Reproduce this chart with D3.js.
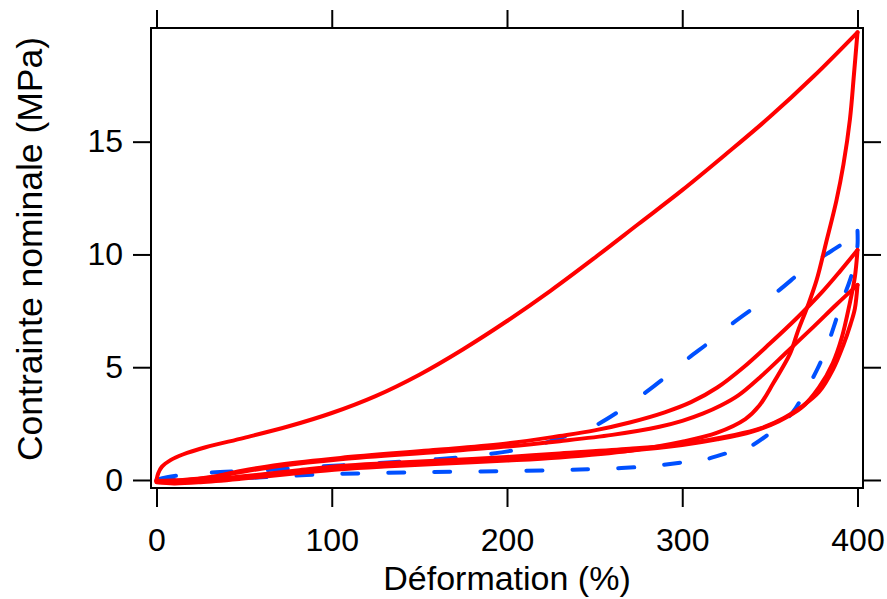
<!DOCTYPE html>
<html><head><meta charset="utf-8">
<script src="https://cdn.jsdelivr.net/npm/d3@7"></script>
<style>
html,body{margin:0;padding:0;background:#fff;}
svg text{font-family:"Liberation Sans",Arial,Helvetica,sans-serif;fill:#000;}
</style></head>
<body><svg id="chart" width="887" height="599"></svg>
<script>
// ---- data (Déformation %, Contrainte nominale MPa) ----
const xTicks = [0, 100, 200, 300, 400];
const yTicks = [0, 5, 10, 15];
const xLabel = "Déformation (%)";
const yLabel = "Contrainte nominale (MPa)";

const redLoad1 = [[0,0],[1,0.3],[3,0.58],[8,0.88],[15,1.13],[28,1.45],[50,1.87],[75,2.37],[100,2.97],[125,3.72],[150,4.67],[175,5.8],[200,7.05],[225,8.4],[250,9.85],[275,11.35],[300,12.85],[325,14.45],[350,16.1],[375,17.9],[400,19.85]];
const redUnload1 = [[400,19.85],[398,18],[395.7,16],[392,14],[388,12.4],[382,10.5],[376.7,8.87],[371.8,7.76],[366,6.6],[361.5,5.6],[352,4.3],[344,3.3],[336,2.7],[320,2.1],[300,1.7],[270,1.3],[230,1.0],[200,0.86],[162,0.72],[130,0.6],[105,0.48],[80,0.3],[48,0.05],[25,-0.1],[10,-0.15],[0,-0.1]];
const redLoad2 = [[0,-0.05],[15,0],[30,0.12],[48,0.4],[70,0.68],[105,0.98],[162,1.35],[200,1.62],[230,1.95],[250,2.2],[270,2.55],[290,3.0],[305,3.45],[320,4.1],[335,5.0],[350,6.05],[365,7.15],[380,8.35],[390,9.25],[400,10.2]];
const redUnload2 = [[400,10.2],[398.5,9],[395.5,7.8],[391,6.3],[386,5.2],[378,4.1],[368,3.2],[355,2.6],[340,2.15],[320,1.8],[300,1.55],[270,1.3],[230,1.1],[200,0.98],[162,0.82],[130,0.7],[105,0.58],[80,0.38],[48,0.12],[25,-0.05],[10,-0.1],[0,-0.05]];
const redLoad3 = [[0,-0.05],[15,-0.02],[30,0.1],[48,0.35],[70,0.62],[105,0.92],[162,1.25],[200,1.48],[230,1.72],[260,2.0],[287,2.36],[300,2.62],[312,2.95],[322,3.3],[332,3.75],[345,4.6],[360,5.7],[375,6.8],[388,7.78],[400,8.65]];
const redUnload3 = [[400,8.65],[398.5,7.6],[396,6.9],[392,6.0],[386,4.9],[378,3.9],[369,3.3],[358,2.75],[345,2.3],[330,2.0],[300,1.6],[270,1.38],[230,1.18],[200,1.02],[162,0.86],[130,0.74],[105,0.62],[80,0.42],[48,0.15],[25,-0.02],[10,-0.08],[0,-0.05]];
const blueLoad = [[0,0],[6,0.12],[18,0.25],[31,0.33],[61,0.43],[83,0.55],[120,0.72],[160,0.92],[190,1.15],[215,1.5],[238,2.07],[250,2.4],[265,3.1],[276,3.7],[291,4.6],[301,5.25],[317,6.2],[328,6.9],[344,7.8],[355,8.4],[369,9.3],[380,9.9],[390,10.4],[396,10.75],[400,11.05]];
const blueUnload = [[400,11.05],[400,10.4],[398.5,9.6],[395,8.7],[391,7.9],[386.5,6.8],[382,5.8],[377,4.9],[370,3.9],[363,3.0],[352,2.2],[337,1.42],[325,1.18],[311,0.87],[300,0.78],[280,0.6],[252,0.49],[230,0.44],[200,0.4],[150,0.34],[120,0.3],[94,0.25],[68,0.15],[40,0.05],[15,0],[0,0]];

const redSeries = [redLoad1, redUnload1, redLoad2, redUnload2, redLoad3, redUnload3];
const blueSeries = [blueLoad, blueUnload];
const blueDash = ["20,36", "16,30"];

// ---- layout ----
const svg = d3.select("#chart");
const L = 151, R = 863, T = 28, B = 488;
const x = d3.scaleLinear().domain([-3.14, 403.14]).range([L, R]);
const y = d3.scaleLinear().domain([-0.355, 20.04]).range([B, T]);

const line = d3.line().x(d => x(d[0])).y(d => y(d[1])).curve(d3.curveCatmullRom.alpha(0.5));

svg.append("clipPath").attr("id","clip").append("rect")
  .attr("x", L).attr("y", T).attr("width", R-L).attr("height", B-T);
const plot = svg.append("g").attr("clip-path","url(#clip)");

plot.selectAll("path.blue").data(blueSeries).join("path").attr("class","blue")
  .attr("d", line).attr("fill","none").attr("stroke","#0050ff")
  .attr("stroke-width",4).attr("stroke-dasharray",(d,i)=>blueDash[i]).attr("stroke-linecap","round").attr("stroke-linejoin","round");
plot.selectAll("path.red").data(redSeries).join("path").attr("class","red")
  .attr("d", line).attr("fill","none").attr("stroke","#ff0000")
  .attr("stroke-width",4).attr("stroke-linecap","round").attr("stroke-linejoin","round");

// axes
function styleAxis(g){ g.select(".domain").remove(); g.selectAll(".tick line").attr("stroke","#000").attr("stroke-width",2); g.selectAll("text").attr("font-size",32).attr("font-family","Liberation Sans, Arial, sans-serif"); }
svg.append("g").attr("transform",`translate(0,${B})`)
  .call(d3.axisBottom(x).tickValues(xTicks).tickSize(19).tickPadding(21).tickFormat(d3.format("d"))).call(styleAxis);
svg.append("g").attr("transform",`translate(0,${T})`)
  .call(d3.axisTop(x).tickValues(xTicks).tickSize(18).tickFormat("")).call(styleAxis);
svg.append("g").attr("transform",`translate(${L},0)`)
  .call(d3.axisLeft(y).tickValues(yTicks).tickSize(18).tickPadding(10).tickFormat(d3.format("d"))).call(styleAxis);
svg.append("g").attr("transform",`translate(${R},0)`)
  .call(d3.axisRight(y).tickValues(yTicks).tickSize(18).tickFormat("")).call(styleAxis);

svg.append("rect").attr("x",L).attr("y",T).attr("width",R-L).attr("height",B-T)
  .attr("fill","none").attr("stroke","#000").attr("stroke-width",2);

svg.append("text").attr("x",(L+R)/2).attr("y",590).attr("text-anchor","middle")
  .attr("font-size",34).text(xLabel);
svg.append("text").attr("transform",`translate(42,249) rotate(-90)`).attr("text-anchor","middle")
  .attr("font-size",35.5).text(yLabel);
</script></body></html>
